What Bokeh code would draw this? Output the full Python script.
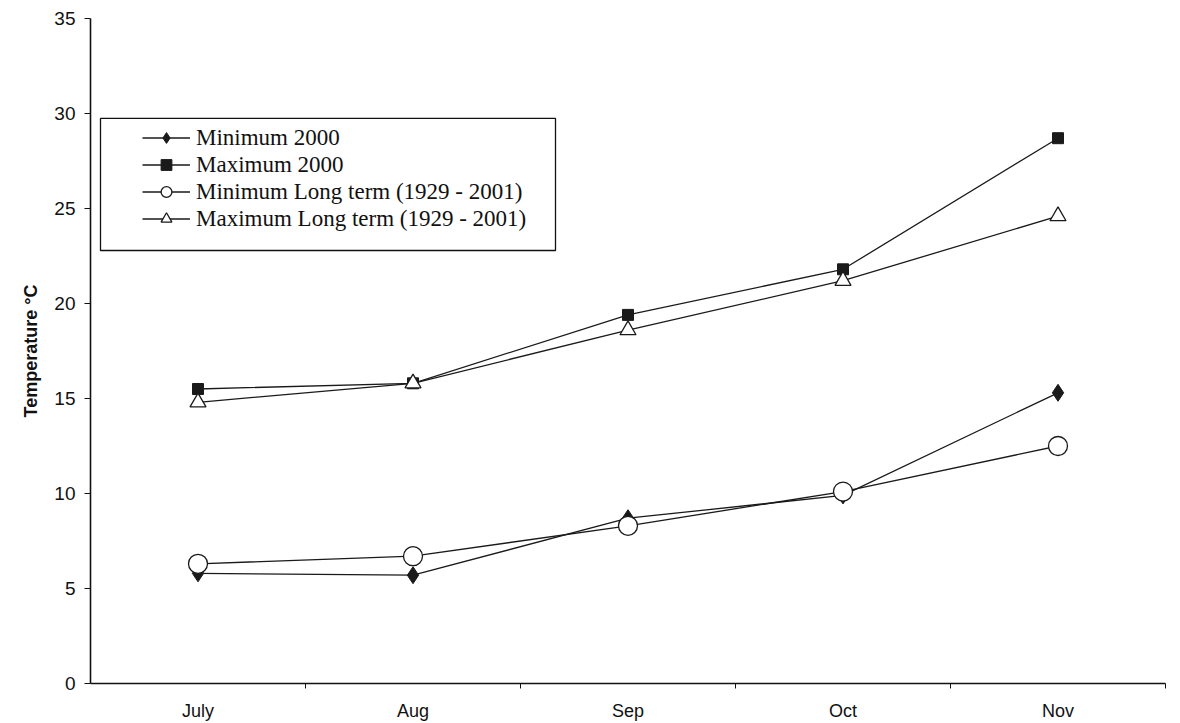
from bokeh.plotting import figure
from bokeh.models import FixedTicker, Range1d, Legend, LegendItem, BoxAnnotation
from bokeh.embed import file_html
from bokeh.resources import INLINE

# Monthly air temperature, July - November
months = ["July", "Aug", "Sep", "Oct", "Nov"]
min_2000 = [5.8, 5.7, 8.7, 9.9, 15.3]
max_2000 = [15.5, 15.8, 19.4, 21.8, 28.7]
min_long_term = [6.3, 6.7, 8.3, 10.1, 12.5]
max_long_term = [14.8, 15.8, 18.6, 21.2, 24.6]
y_ticks = [0, 5, 10, 15, 20, 25, 30, 35]

x = list(range(len(months)))

p = figure(
    width=1180, height=723,
    output_backend="svg", toolbar_location=None,
    x_range=Range1d(-0.5, len(months) - 0.5),
    y_range=Range1d(0, 35),
    min_border_left=90, min_border_right=15,
    min_border_top=18, min_border_bottom=40,
)
p.outline_line_color = None
p.xgrid.grid_line_color = None
p.ygrid.grid_line_color = None
p.background_fill_color = "white"
p.border_fill_color = "white"

# category labels at the centres, tick marks between categories
p.xaxis.ticker = FixedTicker(ticks=x, minor_ticks=[i + 0.5 for i in x])
p.xaxis.major_label_overrides = {i: m for i, m in zip(x, months)}
p.xaxis.major_tick_out = 0
p.xaxis.major_tick_in = 0
p.xaxis.minor_tick_out = 5
p.xaxis.minor_tick_in = 0
p.xaxis.major_label_standoff = 12
p.xaxis.major_label_text_font = "Liberation Sans"
p.xaxis.major_label_text_font_size = "18px"
p.xaxis.major_label_text_color = "#111111"

p.yaxis.ticker = FixedTicker(ticks=y_ticks)
p.yaxis.minor_tick_out = 0
p.yaxis.minor_tick_in = 0
p.yaxis.major_tick_out = 6
p.yaxis.major_tick_in = 0
p.yaxis.major_label_standoff = 9
p.yaxis.major_label_text_font = "Liberation Sans"
p.yaxis.major_label_text_font_size = "19px"
p.yaxis.major_label_text_color = "#111111"
p.yaxis.axis_label = "Temperature °C"
p.yaxis.axis_label_text_font = "Liberation Sans"
p.yaxis.axis_label_text_font_size = "18px"
p.yaxis.axis_label_text_font_style = "bold"
p.yaxis.axis_label_text_color = "#111111"
p.yaxis.axis_label_standoff = 10

for ax in (p.xaxis, p.yaxis):
    ax.axis_line_color = "#111111"
    ax.axis_line_width = 1.6
    ax.major_tick_line_color = "#111111"
    ax.minor_tick_line_color = "#111111"

lc = "#1a1a1a"
r1l = p.line(x, min_2000, line_color=lc, line_width=1.3)
r1m = p.scatter(x, min_2000, marker="diamond", size=17, fill_color=lc, line_color=lc)
r2l = p.line(x, max_2000, line_color=lc, line_width=1.3)
r2m = p.scatter(x, max_2000, marker="square", size=11, fill_color=lc, line_color=lc)
r3l = p.line(x, min_long_term, line_color=lc, line_width=1.3)
r3m = p.scatter(x, min_long_term, marker="circle", size=19, fill_color="white",
                line_color=lc, line_width=1.3)
r4l = p.line(x, max_long_term, line_color=lc, line_width=1.3)
r4m = p.scatter(x, max_long_term, marker="triangle", size=16, fill_color="white",
                line_color=lc, line_width=1.3)

# legend frame, drawn separately so that its inner margins can differ per side
p.add_layout(BoxAnnotation(
    left=-0.4535, right=1.6628, top=29.74, bottom=22.79,
    fill_color="white", fill_alpha=1.0,
    line_color="#111111", line_alpha=1.0, line_width=1.3, level="underlay",
))

legend = Legend(
    items=[
        LegendItem(label="Minimum 2000", renderers=[r1l, r1m]),
        LegendItem(label="Maximum 2000", renderers=[r2l, r2m]),
        LegendItem(label="Minimum Long term (1929 - 2001)", renderers=[r3l, r3m]),
        LegendItem(label="Maximum Long term (1929 - 2001)", renderers=[r4l, r4m]),
    ],
    location=(52, 451),
    label_text_font="Liberation Serif",
    label_text_font_size="23px",
    label_text_color="#111111",
    glyph_width=48,
    glyph_height=27,
    label_height=27,
    label_standoff=6,
    spacing=0,
    padding=0,
    margin=0,
    border_line_color=None,
    background_fill_alpha=0.0,
)
p.add_layout(legend, "center")

open("out.html", "w").write(file_html(p, INLINE))
